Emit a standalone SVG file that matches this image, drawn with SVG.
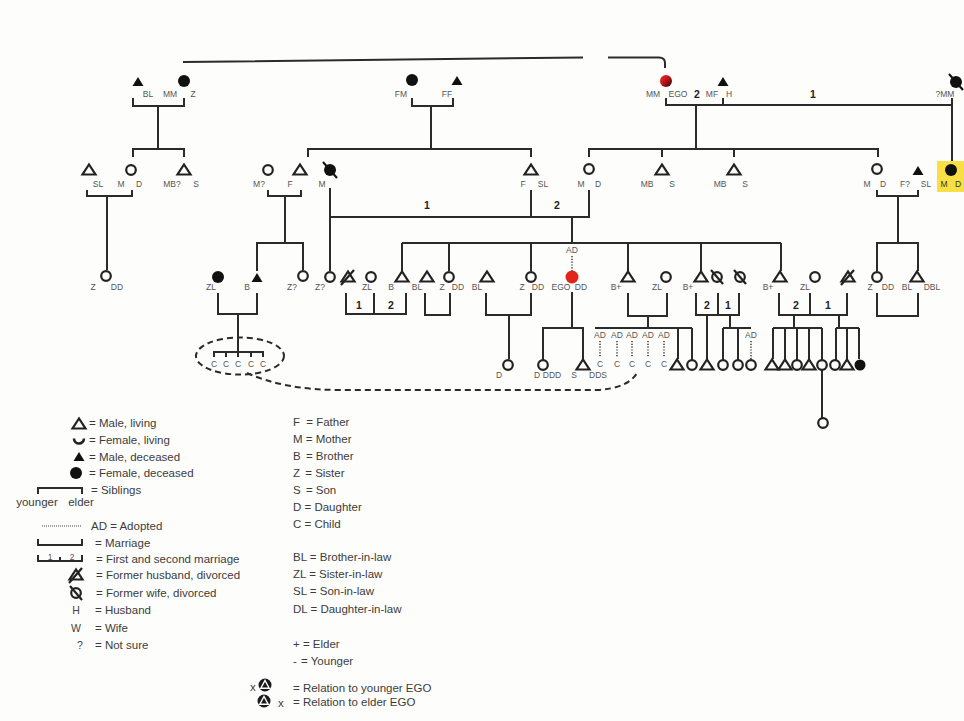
<svg xmlns="http://www.w3.org/2000/svg" xmlns:xlink="http://www.w3.org/1999/xlink" width="964" height="721" viewBox="0 0 964 721">
<style>
.c{fill:none;stroke:#2b2b2b;stroke-width:2}
.d{fill:none;stroke:#2b2b2b;stroke-width:2;stroke-dasharray:6,4}
.dot{fill:none;stroke:#444;stroke-width:1.6;stroke-dasharray:1.2,1.6}
.o{fill:none;stroke:#222;stroke-width:2.2}
.f{fill:#111;stroke:none}
.lab{font-family:"Liberation Sans",Arial,sans-serif;font-size:8.5px;fill:#555;text-anchor:middle}
.num{font-family:"Liberation Sans",Arial,sans-serif;font-size:10.5px;font-weight:bold;fill:#222;text-anchor:middle}
.leg{font-family:"Liberation Sans",Arial,sans-serif;font-size:11.5px;fill:#3c3c3c}
.legm{font-family:"Liberation Sans",Arial,sans-serif;font-size:10.5px;fill:#444;text-anchor:middle}
</style>
<defs>
<path id="tri" d="M-6.5,4.5 H6.5 L0,-5.5 Z"/>
<path id="trif" d="M-5.5,4 H5.5 L0,-5 Z"/>
<circle id="cir" r="4.8"/>
<circle id="cirf" r="6"/>
<g id="dtri"><path d="M-6.5,4.5 H6.5 L0,-5.5 Z"/><path d="M-7,8 L6,-7"/></g>
<g id="dcir"><circle r="4.8"/><path d="M-6,-7 L6,7"/></g>
<g id="dcirf"><circle r="6" fill="#111" stroke="none"/><path d="M-7,-8 L7,8" stroke="#111" stroke-width="2"/></g>
<linearGradient id="egoTop" x1="0" y1="0" x2="1" y2="1">
<stop offset="0" stop-color="#f02a2a"/><stop offset="0.45" stop-color="#c0161a"/><stop offset="1" stop-color="#2a0505"/>
</linearGradient>
</defs>
<rect width="964" height="721" fill="#fdfdfb"/>

<g id="connectors">
<path class="c" d="M183,62 L583,57.5 M608,57.5 H659 Q665,57.5 665,63 V68"/>
<path class="c" d="M133,98 V106 H184 V98 M158,106 V149 M133,157 V149 H184 V157"/>
<path class="c" d="M412,98 V106 H453 V98 M431,106 V149 M308,157 V149 H531 V157"/>
<path class="c" d="M666,98 V105 H952 M723,98 V105 M952,98 V163 M696,105 V149 M589,157 V149 H878 V157 M662,149 V157 M734,149 V157"/>
<path class="c" d="M87,190 V196 H132 V190 M107,196 V270"/>
<path class="c" d="M268,190 V196 H301 V190 M285,196 V243 M257,271 V243 H303 V270"/>
<path class="c" d="M330,188 V271 M330,217 H590 M531,190 V217 M589,190 V217 M572,217 V243"/>
<path class="c" d="M877,190 V196 H918 V190 M898,196 V243 M877,271 V243 H918 V271"/>
<path class="c" d="M402,243 H781 M402,243 V271 M449,243 V271 M531,243 V271 M628,243 V271 M701,243 V271 M781,243 V271"/>
<path class="dot" d="M572,256 V271"/>
<path class="c" d="M218,293 V314 H257 V293 M238,314 V352 M214,357 V352 H263 V357 M226,352 V357 M238,352 V357 M251,352 V357"/>
<path class="c" d="M346,293 V314 H406 V293 M374,293 V314"/>
<path class="c" d="M425,293 V315 H450 V293"/>
<path class="c" d="M486,293 V315 H531 V293 M509,315 V359"/>
<path class="c" d="M572,292 V328 M543,360 V328 H583 V359"/>
<path class="c" d="M628,293 V316 H667 V293 M648,316 V328 M595,328 H692 M678,328 V359 M692,328 V360"/>
<path class="dot" d="M600,341 V357 M617,341 V357 M632,341 V357 M648,341 V357 M664,341 V357 M751,341 V359"/>
<path class="c" d="M696,293 V315 H739 V293 M718,293 V315 M707,315 V359 M730,315 V328 M723,328 H751 M723,328 V360 M738,328 V360"/>
<path class="c" d="M779,293 V315 H847 V293 M810,293 V315 M794,315 V328 M773,328 H822 M773,328 V359 M785,328 V359 M797,328 V360 M809,328 V359 M822,328 V360 M839,315 V328 M836,328 H859 M836,328 V360 M847,328 V359 M859,328 V359 M822,370 V418"/>
<path class="c" d="M877,293 V316 H918 V293"/>
<ellipse class="d" cx="240" cy="356" rx="44" ry="18.5"/>
<path class="d" d="M247,373 Q285,390 340,390 L598,390 Q628,388 637,373"/>
</g>

<g id="numbers">
<text class="num" x="697" y="98">2</text>
<text class="num" x="813" y="98">1</text>
<text class="num" x="427" y="209">1</text>
<text class="num" x="557" y="209">2</text>
<text class="num" x="359" y="309">1</text>
<text class="num" x="391" y="309">2</text>
<text class="num" x="707" y="309">2</text>
<text class="num" x="728" y="309">1</text>
<text class="num" x="796" y="309">2</text>
<text class="num" x="828" y="309">1</text>
</g>

<!-- Row 1 -->
<g id="n-bl-mmz"><use href="#trif" x="138" y="82" class="f"/><use href="#cirf" x="184" y="81" class="f"/>
<text class="lab" x="148" y="97">BL</text><text class="lab" x="170" y="97">MM</text><text class="lab" x="193" y="97">Z</text></g>
<g id="n-fm-ff"><use href="#cirf" x="412" y="80" class="f"/><use href="#trif" x="457" y="81" class="f"/>
<text class="lab" x="401" y="97">FM</text><text class="lab" x="447" y="97">FF</text></g>
<g id="n-mm-ego"><circle cx="666" cy="81" r="6" fill="url(#egoTop)"/>
<text class="lab" x="653" y="97">MM</text><text class="lab" x="678" y="97">EGO</text></g>
<g id="n-mf-h"><use href="#trif" x="723" y="82" class="f"/>
<text class="lab" x="712" y="97">MF</text><text class="lab" x="729" y="97">H</text></g>
<g id="n-qmm"><use href="#dcirf" x="956" y="82"/><text class="lab" x="945" y="97">?MM</text></g>

<!-- Row 2 -->
<g id="n-sl1"><use href="#tri" x="89" y="170" class="o"/><text class="lab" x="98" y="187">SL</text></g>
<g id="n-md1"><use href="#cir" x="131" y="170" class="o"/><text class="lab" x="121" y="187">M</text><text class="lab" x="139" y="187">D</text></g>
<g id="n-mbq"><use href="#tri" x="184" y="170" class="o"/><text class="lab" x="172" y="187">MB?</text><text class="lab" x="196" y="187">S</text></g>
<g id="n-mq"><use href="#cir" x="268" y="170" class="o"/><text class="lab" x="259" y="187">M?</text></g>
<g id="n-f"><use href="#tri" x="300" y="170" class="o"/><text class="lab" x="290" y="187">F</text></g>
<g id="n-m-div"><use href="#dcirf" x="330" y="170"/><text class="lab" x="322" y="187">M</text></g>
<g id="n-fsl"><use href="#tri" x="531" y="170" class="o"/><text class="lab" x="523" y="187">F</text><text class="lab" x="543" y="187">SL</text></g>
<g id="n-md2"><use href="#cir" x="589" y="169" class="o"/><text class="lab" x="581" y="187">M</text><text class="lab" x="598" y="187">D</text></g>
<g id="n-mb1"><use href="#tri" x="662" y="170" class="o"/><text class="lab" x="647" y="187">MB</text><text class="lab" x="672" y="187">S</text></g>
<g id="n-mb2"><use href="#tri" x="734" y="170" class="o"/><text class="lab" x="720" y="187">MB</text><text class="lab" x="745" y="187">S</text></g>
<g id="n-md3"><use href="#cir" x="877" y="169" class="o"/><text class="lab" x="867" y="187">M</text><text class="lab" x="883" y="187">D</text></g>
<g id="n-fqsl"><use href="#trif" x="918" y="171" class="f"/><text class="lab" x="905" y="187">F?</text><text class="lab" x="926" y="187">SL</text></g>
<g id="n-md-hl"><rect x="937" y="161" width="27" height="31" fill="#f8e044"/><use href="#cirf" x="951" y="170" class="f"/>
<text class="lab" x="944" y="187" style="fill:#333">M</text><text class="lab" x="958" y="187" style="fill:#333">D</text></g>

<!-- Row 3 -->
<g id="n-zdd0"><use href="#cir" x="106" y="276" class="o"/><text class="lab" x="93" y="290">Z</text><text class="lab" x="117" y="290">DD</text></g>
<g id="n-zl1"><use href="#cirf" x="218" y="277" class="f"/><text class="lab" x="211" y="290">ZL</text></g>
<g id="n-b1"><use href="#trif" x="257" y="278" class="f"/><text class="lab" x="247" y="290">B</text></g>
<g id="n-zq1"><use href="#cir" x="303" y="276" class="o"/><text class="lab" x="292" y="290">Z?</text></g>
<g id="n-zq2"><use href="#cir" x="330" y="277" class="o"/><text class="lab" x="320" y="290">Z?</text></g>
<g id="n-div1"><use href="#dtri" x="348" y="277" class="o"/></g>
<g id="n-zl2"><use href="#cir" x="371" y="277" class="o"/><text class="lab" x="367" y="290">ZL</text></g>
<g id="n-b2"><use href="#tri" x="402" y="277" class="o"/><text class="lab" x="391" y="290">B</text></g>
<g id="n-bl1"><use href="#tri" x="427" y="277" class="o"/><text class="lab" x="417" y="290">BL</text></g>
<g id="n-zdd1"><use href="#cir" x="449" y="277" class="o"/><text class="lab" x="442" y="290">Z</text><text class="lab" x="458" y="290">DD</text></g>
<g id="n-bl2"><use href="#tri" x="487" y="277" class="o"/><text class="lab" x="477" y="290">BL</text></g>
<g id="n-zdd2"><use href="#cir" x="531" y="277" class="o"/><text class="lab" x="522" y="290">Z</text><text class="lab" x="538" y="290">DD</text></g>
<g id="n-ego"><text class="lab" x="572" y="253">AD</text><circle cx="572" cy="277" r="6.5" fill="#e3241b"/>
<text class="lab" x="561" y="290">EGO</text><text class="lab" x="581" y="290">DD</text></g>
<g id="n-bp1"><use href="#tri" x="628" y="277" class="o"/><text class="lab" x="616" y="290">B+</text></g>
<g id="n-zl3"><use href="#cir" x="666" y="277" class="o"/><text class="lab" x="657" y="290">ZL</text></g>
<g id="n-bp2"><use href="#tri" x="701" y="277" class="o"/><text class="lab" x="688" y="290">B+</text></g>
<g id="n-divw1"><use href="#dcir" x="717" y="277" class="o"/></g>
<g id="n-divw2"><use href="#dcir" x="740" y="277" class="o"/></g>
<g id="n-bp3"><use href="#tri" x="780" y="277" class="o"/><text class="lab" x="768" y="290">B+</text></g>
<g id="n-zl4"><use href="#cir" x="815" y="277" class="o"/><text class="lab" x="805" y="290">ZL</text></g>
<g id="n-div2"><use href="#dtri" x="848" y="277" class="o"/></g>
<g id="n-zdd3"><use href="#cir" x="877" y="277" class="o"/><text class="lab" x="870" y="290">Z</text><text class="lab" x="888" y="290">DD</text></g>
<g id="n-bl3"><use href="#tri" x="917" y="277" class="o"/><text class="lab" x="907" y="290">BL</text><text class="lab" x="932" y="290">DBL</text></g>

<!-- Row 4 -->
<g id="n-children-left">
<text class="lab" x="214" y="367">C</text><text class="lab" x="226" y="367">C</text><text class="lab" x="238" y="367">C</text><text class="lab" x="251" y="367">C</text><text class="lab" x="263" y="367">C</text></g>
<g id="n-d1"><use href="#cir" x="508" y="365" class="o"/><text class="lab" x="499" y="378">D</text></g>
<g id="n-ddd"><use href="#cir" x="543" y="365" class="o"/><text class="lab" x="537" y="378">D</text><text class="lab" x="552" y="378">DDD</text></g>
<g id="n-dds"><use href="#tri" x="583" y="365" class="o"/><text class="lab" x="574" y="378">S</text><text class="lab" x="598" y="378">DDS</text></g>
<g id="n-adopted">
<text class="lab" x="600" y="338">AD</text><text class="lab" x="617" y="338">AD</text><text class="lab" x="632" y="338">AD</text><text class="lab" x="648" y="338">AD</text><text class="lab" x="664" y="338">AD</text>
<text class="lab" x="600" y="367">C</text><text class="lab" x="617" y="367">C</text><text class="lab" x="632" y="367">C</text><text class="lab" x="648" y="367">C</text><text class="lab" x="664" y="367">C</text></g>
<g id="n-k1"><use href="#tri" x="677" y="365" class="o"/></g>
<g id="n-k2"><use href="#cir" x="692" y="365" class="o"/></g>
<g id="n-k3"><use href="#tri" x="707" y="365" class="o"/></g>
<g id="n-k4"><use href="#cir" x="723" y="365" class="o"/></g>
<g id="n-k5"><use href="#cir" x="738" y="365" class="o"/></g>
<g id="n-k6"><text class="lab" x="751" y="338">AD</text><use href="#cir" x="751" y="365" class="o"/></g>
<g id="n-k7"><use href="#tri" x="772" y="365" class="o"/></g>
<g id="n-k8"><use href="#tri" x="785" y="365" class="o"/></g>
<g id="n-k9"><use href="#cir" x="797" y="365" class="o"/></g>
<g id="n-k10"><use href="#tri" x="809" y="365" class="o"/></g>
<g id="n-k11"><use href="#cir" x="822" y="365" class="o"/></g>
<g id="n-k12"><use href="#cir" x="835" y="365" class="o"/></g>
<g id="n-k13"><use href="#tri" x="847" y="365" class="o"/></g>
<g id="n-k14"><circle cx="860" cy="365" r="5.5" class="f"/></g>
<g id="n-k15"><use href="#cir" x="823" y="423" class="o"/></g>

<!-- Legend -->
<g id="legend-symbols">
<use href="#tri" x="79" y="424" class="o"/><text class="leg" x="89" y="427">= Male, living</text>
<path d="M74,438.5 A5,5 0 0 0 84,438.5" fill="none" stroke="#222" stroke-width="2.6"/><text class="leg" x="89" y="444">= Female, living</text>
<use href="#trif" x="79" y="457" class="f"/><text class="leg" x="89" y="461">= Male, deceased</text>
<use href="#cirf" x="76" y="473" class="f"/><text class="leg" x="89" y="477">= Female, deceased</text>
<path class="c" d="M38,494 V488 H82 V494"/><text class="leg" x="91" y="494">= Siblings</text>
<text class="leg" x="37" y="506" text-anchor="middle">younger</text><text class="leg" x="81" y="506" text-anchor="middle">elder</text>
<path class="dot" d="M42,526 H82" style="stroke-width:1.2;stroke-dasharray:1,1"/><text class="leg" x="91" y="530">AD = Adopted</text>
<path class="c" d="M38,539 V545 H82 V539"/><text class="leg" x="95" y="547">= Marriage</text>
<path class="c" d="M38,555 V561 H82 V555 M60,557 V561"/><text class="lab" x="50" y="560">1</text><text class="lab" x="72" y="560">2</text>
<text class="leg" x="96" y="563">= First and second marriage</text>
<use href="#dtri" x="76" y="575" class="o"/><text class="leg" x="96" y="579">= Former husband, divorced</text>
<use href="#dcir" x="76" y="593" class="o"/><text class="leg" x="96" y="597">= Former wife, divorced</text>
<text class="legm" x="76" y="614">H</text><text class="leg" x="95" y="614">= Husband</text>
<text class="legm" x="76" y="632">W</text><text class="leg" x="95" y="632">= Wife</text>
<text class="legm" x="80" y="649">?</text><text class="leg" x="95" y="649">= Not sure</text>
</g>
<g id="legend-codes">
<text class="leg" x="293" y="425.5">F <tspan dx="3">= Father</tspan></text>
<text class="leg" x="293" y="442.5">M = Mother</text>
<text class="leg" x="293" y="459.5">B <tspan dx="2">= Brother</tspan></text>
<text class="leg" x="293" y="476.5">Z <tspan dx="2">= Sister</tspan></text>
<text class="leg" x="293" y="493.5">S <tspan dx="2">= Son</tspan></text>
<text class="leg" x="293" y="510.5">D = Daughter</text>
<text class="leg" x="293" y="527.5">C = Child</text>
<text class="leg" x="293" y="561">BL = Brother-in-law</text>
<text class="leg" x="293" y="578">ZL = Sister-in-law</text>
<text class="leg" x="293" y="595">SL = Son-in-law</text>
<text class="leg" x="293" y="612.5">DL = Daughter-in-law</text>
<text class="leg" x="293" y="648">+ = Elder</text>
<text class="leg" x="293" y="665">- <tspan dx="1">= Younger</tspan></text>
</g>
<g id="legend-ego">
<text class="leg" x="250" y="691">x</text>
<circle cx="265" cy="685" r="6.5" fill="#1a1a1a"/><path d="M260.8,688.2 H269.2 L265,680.5 Z" fill="none" stroke="#fff" stroke-width="1.4"/>
<text class="leg" x="293" y="692">= Relation to younger EGO</text>
<circle cx="264" cy="701" r="6.5" fill="#1a1a1a"/><path d="M259.8,704.2 H268.2 L264,696.5 Z" fill="none" stroke="#fff" stroke-width="1.4"/>
<text class="leg" x="278" y="707">x</text>
<text class="leg" x="293" y="706">= Relation to elder EGO</text>
</g>
</svg>
